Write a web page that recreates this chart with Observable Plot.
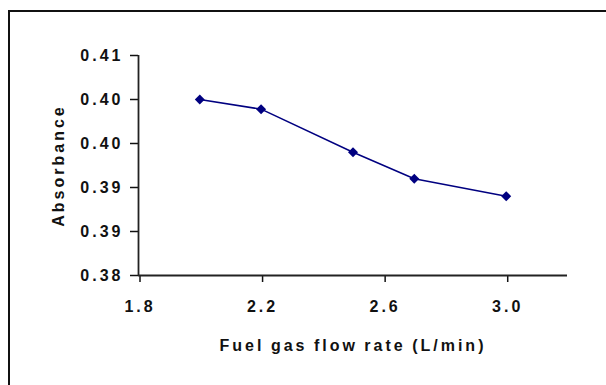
<!DOCTYPE html>
<html><head><meta charset="utf-8">
<script src="https://cdn.jsdelivr.net/npm/d3@7"></script>
<script src="https://cdn.jsdelivr.net/npm/@observablehq/plot@0.6"></script>
<style>
html,body{margin:0;padding:0;background:#fff;width:606px;height:385px;overflow:hidden;}
#wrap{position:relative;width:606px;height:385px;}
#wrap svg{position:absolute;left:0;top:0;display:block;}
#border{position:absolute;left:8px;top:10px;width:640px;height:420px;border:2px solid #111;box-sizing:border-box;pointer-events:none;}
</style></head><body><div id="wrap"></div>
<script>
const flowRates = [2.0, 2.2, 2.5, 2.7, 3.0];
const absorbance = [0.4000, 0.3989, 0.3940, 0.3910, 0.3890];
const xTicks = [1.8, 2.2, 2.6, 3.0];
const xTickLabels = ["1.8", "2.2", "2.6", "3.0"];
const yTicks = [0.380, 0.385, 0.390, 0.395, 0.400, 0.405];
const yTickLabels = ["0.38", "0.39", "0.39", "0.40", "0.40", "0.41"];
const xLabel = "Fuel gas flow rate (L/min)";
const yLabel = "Absorbance";

const data = flowRates.map((x, i) => ({x, y: absorbance[i]}));

const chart = Plot.plot({
  width: 606, height: 385,
  marginLeft: 138, marginTop: 55, marginRight: 39, marginBottom: 110,
  style: {fontFamily: "Arial, 'Liberation Sans', sans-serif", fontSize: "16px", fontWeight: "bold", letterSpacing: "3px", wordSpacing: "-1px", color: "#111", background: "transparent"},
  x: {domain: [1.8, 3.2]},
  y: {domain: [0.38, 0.405]},
  marks: [
    Plot.axisX({ticks: xTicks, tickFormat: d => xTickLabels[xTicks.indexOf(d)], tickSize: 7, tickPadding: 18, strokeWidth: 1.5, dx: 1.5,
      label: xLabel, labelAnchor: "center", labelOffset: 75, labelArrow: "none"}),
    Plot.axisY({ticks: yTicks, tickFormat: d => yTickLabels[yTicks.indexOf(d)], tickSize: 8, tickPadding: 7, strokeWidth: 1.5,
      label: yLabel, labelAnchor: "center", labelOffset: 86, labelArrow: "none"}),
    Plot.ruleY([0.38], {stroke: "#222", strokeWidth: 1.8}),
    Plot.ruleX([1.8], {stroke: "#222", strokeWidth: 1.8}),
    Plot.line(data, {x: "x", y: "y", stroke: "#000080", strokeWidth: 1.5}),
    Plot.dot(data, {x: "x", y: "y", symbol: "diamond2", r: 4.5, fill: "#000080", stroke: "none"})
  ]
});
const wrap = document.getElementById("wrap");
wrap.appendChild(chart);
const border = document.createElement("div");
border.id = "border";
wrap.appendChild(border);
</script>
</body></html>
